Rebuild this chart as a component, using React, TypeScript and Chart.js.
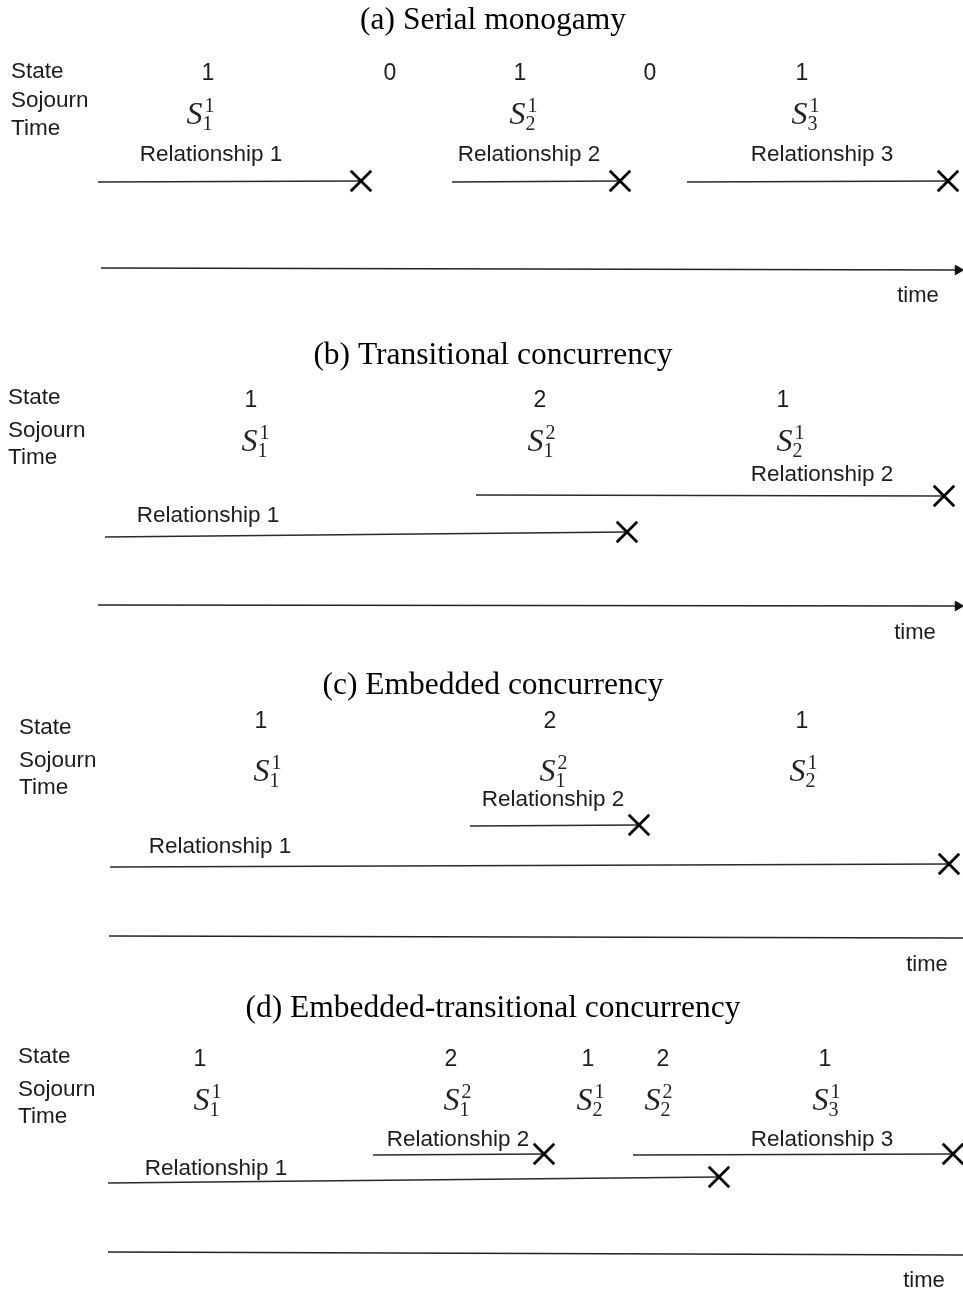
import React, { useEffect, useRef } from 'react';
import { Chart, registerables } from 'chart.js';

Chart.register(...registerables);

const W = 963;
const H = 1293;

// ---------- DATA ----------
const panelTitles = [
  '(a) Serial monogamy',
  '(b) Transitional concurrency',
  '(c) Embedded concurrency',
  '(d) Embedded-transitional concurrency',
];
const rowLabels = ['State', 'Sojourn', 'Time'];
const axisLabel = 'time';

// (a) Serial monogamy
const aStates = ['1', '0', '1', '0', '1'];
const aStateTimes = [208, 390, 520, 650, 802];
const aSojournSub = ['1', '2', '3'];
const aSojournSup = ['1', '1', '1'];
const aSojournTimes = [200, 523, 805];
const aRelNames = ['Relationship 1', 'Relationship 2', 'Relationship 3'];
const aRelStart = [98, 452, 687];
const aRelEnd = [361, 620, 948];
const aRelLane = [0, 0, 0];
const aRelLabelTimes = [211, 529, 822];

// (b) Transitional concurrency
const bStates = ['1', '2', '1'];
const bStateTimes = [251, 540, 783];
const bSojournSub = ['1', '1', '2'];
const bSojournSup = ['1', '2', '1'];
const bSojournTimes = [255, 541, 790];
const bRelNames = ['Relationship 1', 'Relationship 2'];
const bRelStart = [105, 476];
const bRelEnd = [627, 944];
const bRelLane = [0, 1];
const bRelLabelTimes = [208, 822];

// (c) Embedded concurrency
const cStates = ['1', '2', '1'];
const cStateTimes = [261, 550, 802];
const cSojournSub = ['1', '1', '2'];
const cSojournSup = ['1', '2', '1'];
const cSojournTimes = [267, 553, 803];
const cRelNames = ['Relationship 1', 'Relationship 2'];
const cRelStart = [110, 470];
const cRelEnd = [949, 639];
const cRelLane = [0, 1];
const cRelLabelTimes = [220, 553];

// (d) Embedded-transitional concurrency
const dStates = ['1', '2', '1', '2', '1'];
const dStateTimes = [200, 451, 588, 663, 825];
const dSojournSub = ['1', '1', '2', '2', '3'];
const dSojournSup = ['1', '2', '1', '2', '1'];
const dSojournTimes = [207, 457, 590, 658, 826];
const dRelNames = ['Relationship 1', 'Relationship 2', 'Relationship 3'];
const dRelStart = [108, 373, 633];
const dRelEnd = [719, 544, 953];
const dRelLane = [0, 1, 1];
const dRelLabelTimes = [216, 458, 822];

// ---------- LAYOUT (positions, not data) ----------
const TITLE_X = 493;
const layouts = [
  {
    title: 21, leftX: 11, rowY: [72, 101, 129], stateY: 74, sojournY: 114,
    lanes: [{ y0: 182, y1: 181, label: 155 }],
    axis: { x0: 101, y0: 268, y1: 270, arrow: true }, timeText: { x: 918, y: 296 },
  },
  {
    title: 356, leftX: 8, rowY: [398, 431, 458], stateY: 401, sojournY: 441,
    lanes: [{ y0: 537, y1: 532, label: 516 }, { y0: 495, y1: 496, label: 475 }],
    axis: { x0: 98, y0: 605, y1: 606, arrow: true }, timeText: { x: 915, y: 633 },
  },
  {
    title: 686, leftX: 19, rowY: [728, 761, 788], stateY: 722, sojournY: 771,
    lanes: [{ y0: 867, y1: 864, label: 847 }, { y0: 826, y1: 825, label: 800 }],
    axis: { x0: 109, y0: 936, y1: 938, arrow: false }, timeText: { x: 927, y: 965 },
  },
  {
    title: 1009, leftX: 18, rowY: [1057, 1090, 1117], stateY: 1060, sojournY: 1100,
    lanes: [{ y0: 1183, y1: 1177, label: 1169 }, { y0: 1155, y1: 1154, label: 1140 }],
    axis: { x0: 108, y0: 1252, y1: 1255, arrow: false }, timeText: { x: 924, y: 1281 },
  },
];

const panels = [
  { states: aStates, stateTimes: aStateTimes, sub: aSojournSub, sup: aSojournSup, sojTimes: aSojournTimes, relNames: aRelNames, relStart: aRelStart, relEnd: aRelEnd, relLane: aRelLane, relLabelTimes: aRelLabelTimes },
  { states: bStates, stateTimes: bStateTimes, sub: bSojournSub, sup: bSojournSup, sojTimes: bSojournTimes, relNames: bRelNames, relStart: bRelStart, relEnd: bRelEnd, relLane: bRelLane, relLabelTimes: bRelLabelTimes },
  { states: cStates, stateTimes: cStateTimes, sub: cSojournSub, sup: cSojournSup, sojTimes: cSojournTimes, relNames: cRelNames, relStart: cRelStart, relEnd: cRelEnd, relLane: cRelLane, relLabelTimes: cRelLabelTimes },
  { states: dStates, stateTimes: dStateTimes, sub: dSojournSub, sup: dSojournSup, sojTimes: dSojournTimes, relNames: dRelNames, relStart: dRelStart, relEnd: dRelEnd, relLane: dRelLane, relLabelTimes: dRelLabelTimes },
];

const SANS = '"Liberation Sans", Arial, sans-serif';
const SERIF = '"Liberation Serif", "Times New Roman", serif';

function buildDatasets() {
  const ds: any[] = [];
  panels.forEach((p, pi) => {
    const L = layouts[pi];
    const ax = L.axis;
    // time axis
    const axEnd = ax.arrow ? W - 5 : W;
    ds.push({
      data: [{ x: ax.x0, y: ax.y0 }, { x: axEnd, y: ax.y1 }],
      borderColor: '#222',
      borderWidth: 1.6,
      pointRadius: [0, ax.arrow ? 5.5 : 0],
      pointStyle: 'triangle',
      rotation: 90,
      pointBackgroundColor: '#111',
      pointBorderColor: '#111',
      pointBorderWidth: 1,
      clip: false,
    });
    // relationships
    p.relStart.forEach((s, i) => {
      const lane = L.lanes[p.relLane[i]];
      const e = p.relEnd[i];
      ds.push({
        data: [{ x: s, y: lane.y0 }, { x: e, y: lane.y1 }],
        borderColor: '#2a2a2a',
        borderWidth: 1.5,
        pointRadius: [0, 14.5],
        pointStyle: 'crossRot',
        pointBorderColor: '#000',
        pointBorderWidth: 2.8,
        pointBackgroundColor: '#000',
        clip: false,
      });
    });
  });
  return ds;
}

function drawSojourn(ctx: CanvasRenderingContext2D, cx: number, cy: number, sub: string, sup: string) {
  const sFont = 'italic 32px ' + SERIF;
  const dFont = '20px ' + SERIF;
  ctx.font = sFont;
  const wS = ctx.measureText('S').width;
  ctx.font = dFont;
  const wD = Math.max(ctx.measureText(sub).width, ctx.measureText(sup).width);
  const left = cx - (wS + wD + 1) / 2;
  const base = cy + 10;
  ctx.textAlign = 'left';
  ctx.textBaseline = 'alphabetic';
  ctx.font = sFont;
  ctx.fillText('S', left, base);
  ctx.font = dFont;
  ctx.fillText(sup, left + wS + 2, base - 12);
  ctx.fillText(sub, left + wS, base + 6);
}

const textPlugin = {
  id: 'diagramText',
  afterDatasetsDraw(chart: any) {
    const ctx: CanvasRenderingContext2D = chart.ctx;
    const xs = chart.scales.x;
    const ys = chart.scales.y;
    const px = (v: number) => xs.getPixelForValue(v);
    const py = (v: number) => ys.getPixelForValue(v);
    ctx.save();
    panels.forEach((p, pi) => {
      const L = layouts[pi];
      // title
      ctx.fillStyle = '#000';
      ctx.font = '31.5px ' + SERIF;
      ctx.textAlign = 'center';
      ctx.textBaseline = 'middle';
      ctx.fillText(panelTitles[pi], px(TITLE_X), py(L.title));
      // row labels
      ctx.fillStyle = '#1c1c1c';
      ctx.font = '22.5px ' + SANS;
      ctx.textAlign = 'left';
      rowLabels.forEach((t, i) => ctx.fillText(t, px(L.leftX), py(L.rowY[i])));
      // states
      ctx.font = '23px ' + SANS;
      ctx.textAlign = 'center';
      p.states.forEach((s, i) => ctx.fillText(s, px(p.stateTimes[i]), py(L.stateY)));
      // sojourn times
      ctx.fillStyle = '#222';
      p.sojTimes.forEach((t, i) => drawSojourn(ctx, px(t), py(L.sojournY), p.sub[i], p.sup[i]));
      // relationship labels
      ctx.fillStyle = '#1c1c1c';
      ctx.font = '22.5px ' + SANS;
      ctx.textAlign = 'center';
      ctx.textBaseline = 'middle';
      p.relNames.forEach((n, i) => {
        const lane = L.lanes[p.relLane[i]];
        ctx.fillText(n, px(p.relLabelTimes[i]), py(lane.label));
      });
      // axis label
      ctx.font = '22px ' + SANS;
      ctx.fillText(axisLabel, px(L.timeText.x), py(L.timeText.y));
    });
    ctx.restore();
  },
};

export default function App() {
  const ref = useRef<HTMLCanvasElement | null>(null);
  useEffect(() => {
    if (!ref.current) return;
    const chart = new Chart(ref.current, {
      type: 'line',
      data: { datasets: buildDatasets() },
      options: {
        animation: false,
        responsive: false,
        maintainAspectRatio: false,
        devicePixelRatio: 1,
        layout: { padding: 0, autoPadding: false },
        parsing: false as any,
        events: [],
        elements: { line: { tension: 0 } },
        plugins: { legend: { display: false }, tooltip: { enabled: false }, title: { display: false } },
        scales: {
          x: { type: 'linear', min: 0, max: W, display: false },
          y: { type: 'linear', min: 0, max: H, reverse: true, display: false },
        },
      },
      plugins: [textPlugin],
    } as any);
    return () => chart.destroy();
  }, []);
  return (
    <div style={{ position: 'absolute', left: 0, top: 0, width: W, height: H, background: '#fff' }}>
      <canvas ref={ref} width={W} height={H} style={{ display: 'block', width: W, height: H }} />
    </div>
  );
}
